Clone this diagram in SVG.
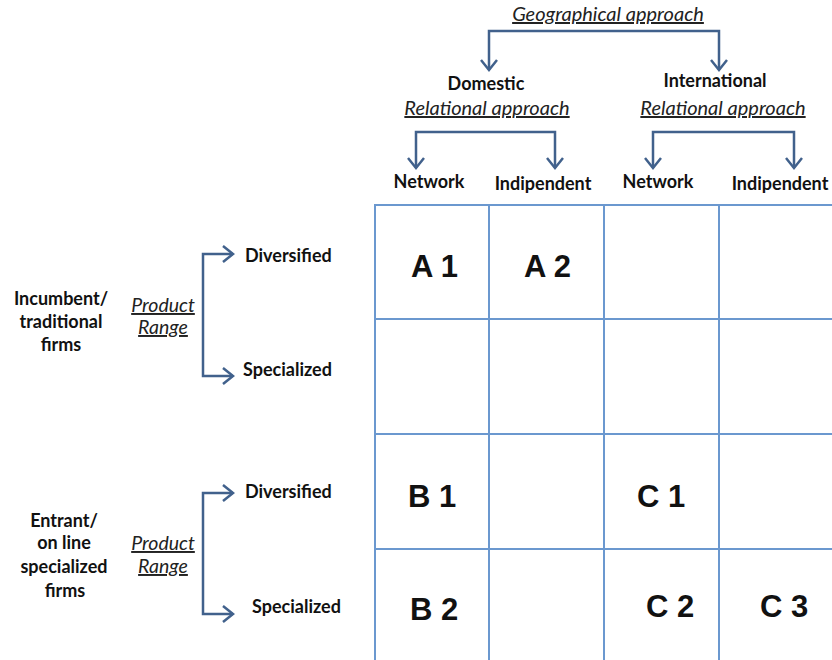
<svg xmlns="http://www.w3.org/2000/svg" width="832" height="660" viewBox="0 0 832 660">
<style>
.lbl{font-family:Lato,"Open Sans","Liberation Sans",sans-serif;font-weight:bold;font-size:18px;fill:#111}
.it{font-family:Lato,"Open Sans","Liberation Sans",sans-serif;font-style:italic;font-size:20px;fill:#222;text-decoration:underline}
.it2{font-size:19.5px}
.cell{font-family:"Liberation Sans",Arial,sans-serif;font-weight:bold;font-size:31px;fill:#111}
.grid{stroke:#6b98cf;stroke-width:2;fill:none}
.conn{stroke:#41618c;stroke-width:2.5;fill:none;marker-start:url(#chev);marker-end:url(#chev)}
</style>
<defs>
<marker id="chev" markerUnits="userSpaceOnUse" markerWidth="24" markerHeight="24" viewBox="-12 -12 24 24" refX="0" refY="0" orient="auto-start-reverse">
<path d="M-10,-8 L0,0 L-10,8" fill="none" stroke="#41618c" stroke-width="2.5" stroke-linejoin="miter"/>
</marker>
</defs>
<rect width="832" height="660" fill="#fff"/>
<g id="grid">
<path class="grid" d="M375,660 V205 H832 M489,205 V660 M604,205 V660 M719,205 V660 M375,319 H832 M375,434 H832 M375,549 H832"/>
</g>
<g id="connectors">
<path class="conn" d="M489,70 V31 H719 V70"/>
<path class="conn" d="M416,168 V132 H555 V168"/>
<path class="conn" d="M653,168 V132 H794 V168"/>
<path class="conn" d="M233,254 H203 V376 H233"/>
<path class="conn" d="M233,493 H203 V614 H233"/>
</g>
<g id="geo"><text class="it" x="608" y="21" text-anchor="middle">Geographical approach</text></g>
<g id="domestic"><text class="lbl" x="486" y="90" text-anchor="middle">Domestic</text></g>
<g id="international"><text class="lbl" x="715" y="87" text-anchor="middle">International</text></g>
<g id="rel-dom"><text class="it" x="487" y="115" text-anchor="middle">Relational approach</text></g>
<g id="rel-int"><text class="it" x="723" y="115" text-anchor="middle">Relational approach</text></g>
<g id="net-dom"><text class="lbl" x="429" y="188" text-anchor="middle">Network</text></g>
<g id="ind-dom"><text class="lbl" x="543" y="190" text-anchor="middle">Indipendent</text></g>
<g id="net-int"><text class="lbl" x="658" y="188" text-anchor="middle">Network</text></g>
<g id="ind-int"><text class="lbl" x="780" y="190" text-anchor="middle">Indipendent</text></g>
<g id="incumbent"><text class="lbl" text-anchor="middle"><tspan x="61" y="305">Incumbent/</tspan><tspan x="61" y="328">traditional</tspan><tspan x="61" y="351">firms</tspan></text></g>
<g id="range1"><text class="it it2" text-anchor="middle"><tspan x="163" y="312">Product</tspan><tspan x="163" y="334">Range</tspan></text></g>
<g id="div1"><text class="lbl" x="245" y="262">Diversified</text></g>
<g id="spec1"><text class="lbl" x="243" y="376">Specialized</text></g>
<g id="entrant"><text class="lbl" text-anchor="middle"><tspan x="64" y="527">Entrant/</tspan><tspan x="64" y="549">on line</tspan><tspan x="64" y="573">specialized</tspan><tspan x="65" y="597">firms</tspan></text></g>
<g id="range2"><text class="it it2" text-anchor="middle"><tspan x="163" y="550">Product</tspan><tspan x="163" y="573">Range</tspan></text></g>
<g id="div2"><text class="lbl" x="245" y="498">Diversified</text></g>
<g id="spec2"><text class="lbl" x="252" y="613">Specialized</text></g>
<g id="A1"><text class="cell" x="411" y="277">A 1</text></g>
<g id="A2"><text class="cell" x="524" y="277">A 2</text></g>
<g id="B1"><text class="cell" x="408" y="507">B 1</text></g>
<g id="C1"><text class="cell" x="637" y="507">C 1</text></g>
<g id="B2"><text class="cell" x="410" y="620">B 2</text></g>
<g id="C2"><text class="cell" x="646" y="617">C 2</text></g>
<g id="C3"><text class="cell" x="760" y="617">C 3</text></g>
</svg>
